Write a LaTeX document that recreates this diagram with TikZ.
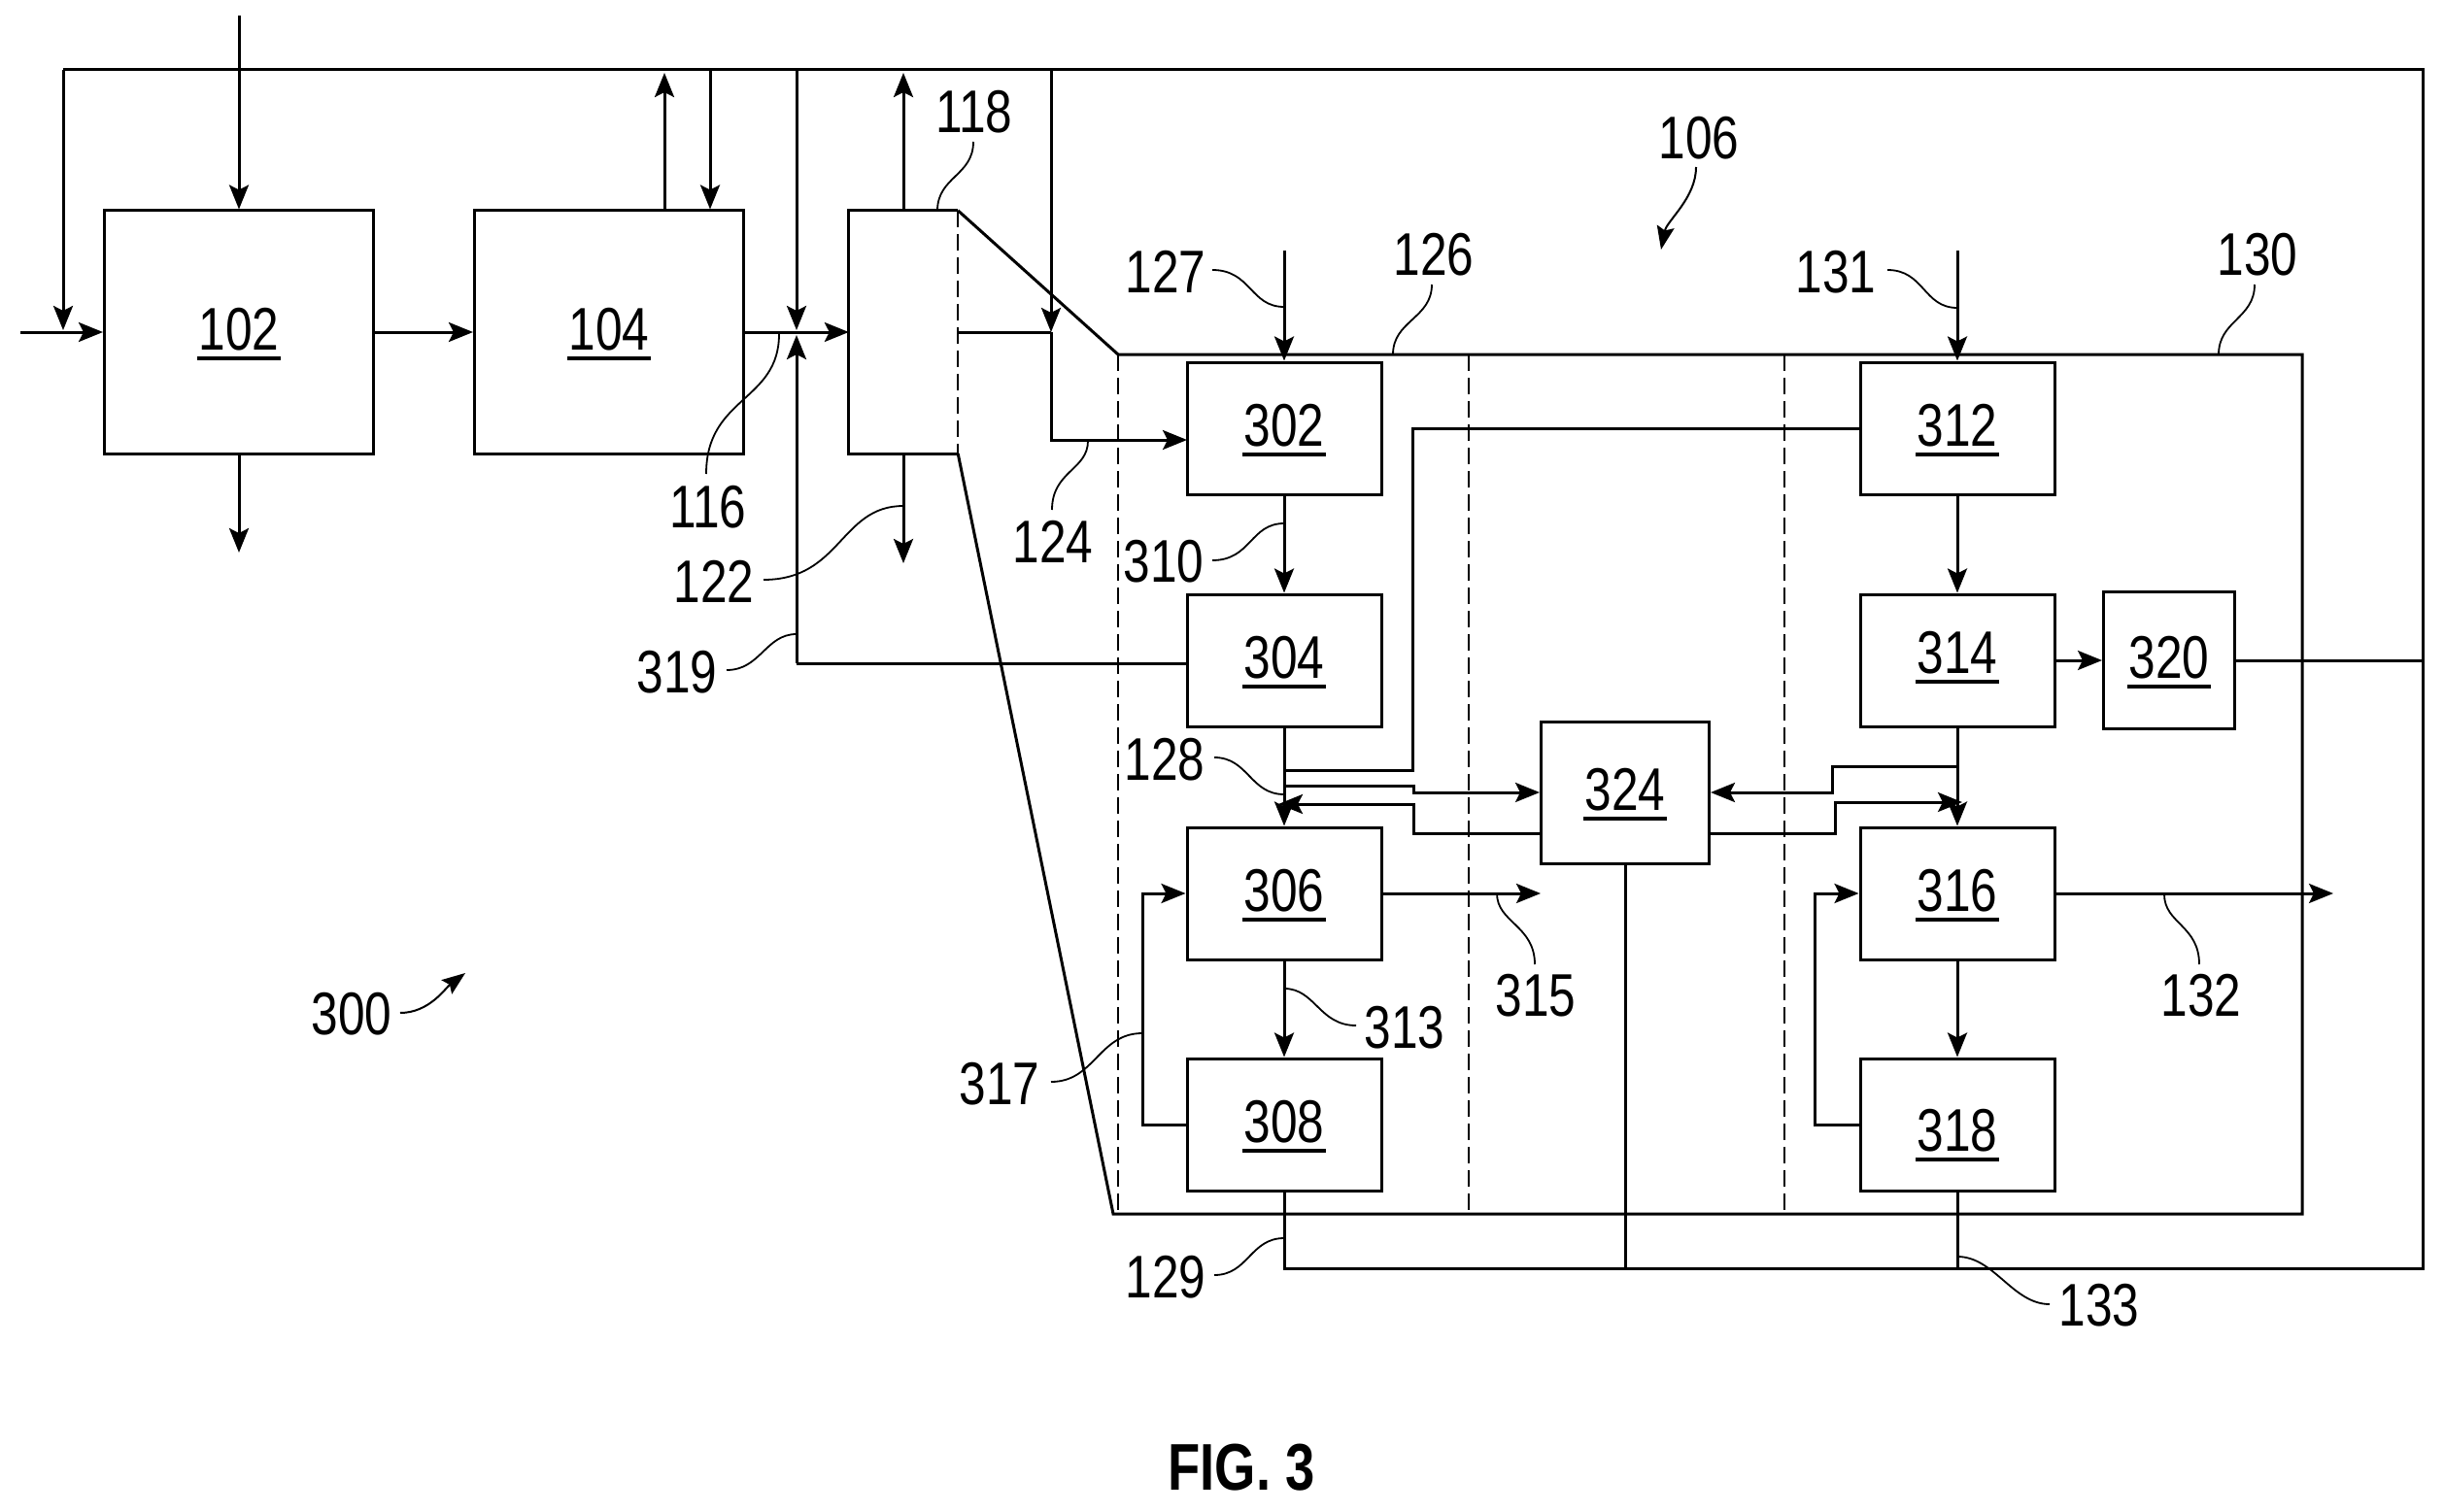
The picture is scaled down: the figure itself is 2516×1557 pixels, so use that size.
\documentclass[tikz,border=0pt]{standalone}
\usepackage{fontspec}
\setmainfont[FakeStretch=0.8]{Liberation Sans}
\usetikzlibrary{arrows.meta}

\newcommand{\partno}[1]{\vbox{\kern5pt\vtop{\hbox{\kern1.5pt#1\kern1.5pt}\kern5.5pt\hrule height 4.5pt}}}

\tikzset{
	line/.style={line width=3pt},
	flow/.style={line width=3pt,-{Stealth[length=25pt,width=20pt,inset=5pt]}},
	leader/.style={line width=1.8pt},
	pointer/.style={line width=2pt,-{Stealth[length=24pt,width=18pt,inset=4pt]}},
	zone/.style={line width=2.4pt,dash pattern=on 17pt off 7pt},
	block/.style={draw,line width=3pt,inner sep=0pt,font=\fontsize{62}{62}\selectfont},
	bigblock/.style={block,minimum width=277pt,minimum height=250pt},
	midblock/.style={block,minimum width=200pt,minimum height=136pt},
	tag/.style={inner sep=0pt,font=\fontsize{62}{62}\selectfont}
}

\begin{document}
\begin{tikzpicture}[x=1pt,y=-1pt]
	\useasboundingbox (0,0) rectangle (2516,1557);

	\node [bigblock] (B102) at (246,342) {\partno{102}};
	\node [bigblock] (B104) at (627,342) {\partno{104}};
	\node [inner sep=0pt,minimum width=112pt,minimum height=250pt] (B118) at (930,342) {};

	\node [midblock] (B302) at (1322,441) {\partno{302}};
	\node [midblock] (B304) at (1322,680) {\partno{304}};
	\node [midblock] (B306) at (1322,920) {\partno{306}};
	\node [midblock] (B308) at (1322,1158) {\partno{308}};
	\node [midblock] (B312) at (2015,441) {\partno{312}};
	\node [midblock] (B314) at (2015,680) {};
	\node [tag] (N314) at (2015,675) {\partno{314}};
	\node [midblock] (B316) at (2015,920) {\partno{316}};
	\node [midblock] (B318) at (2015,1158) {};
	\node [tag] (N318) at (2015,1167) {\partno{318}};
	\node [block,minimum width=135pt,minimum height=141pt] (B320) at (2233,680) {\partno{320}};
	\node [block,minimum width=173pt,minimum height=146pt] (B324) at (1673,816) {\partno{324}};

	\coordinate (TopLeft) at (65,72);
	\coordinate (TopRight) at (2494,72);
	\coordinate (BusLeft) at (1322,1306);
	\coordinate (BusRight) at (2494,1306);
	\coordinate (InLeft) at (21,342);
	\coordinate (InTop) at (246,16);
	\coordinate (OutBottom) at (246,569);
	\coordinate (Up104) at (684,75);
	\coordinate (Down104) at (731,72);
	\coordinate (Up118) at (930,75);
	\coordinate (Down118) at (930,580);
	\coordinate (Feed) at (65,340);
	\coordinate (JoinTop) at (820,72);
	\coordinate (JoinDown) at (820,340);
	\coordinate (JoinUp) at (820,345);
	\coordinate (JoinFoot) at (820,683);
	\coordinate (Drop) at (1082,72);
	\coordinate (Branch) at (1082,342);
	\coordinate (Into302) at (1222,453);
	\coordinate (In127) at (1322,258);
	\coordinate (In131) at (2015,258);
	\coordinate (Out306) at (1586,920);
	\coordinate (Out316) at (2402,920);
	\coordinate (Loop308) at (1176,1158);
	\coordinate (Loop318) at (1868,1158);

	% vessel outline and zones
	\coordinate (ZoneTop) at (1151,365);
	\coordinate (ZoneBottom) at (1146,1250);
	\coordinate (ZoneTopRight) at (2370,365);
	\coordinate (ZoneBottomRight) at (2370,1250);
	\coordinate (ZoneMidA) at (1512,365);
	\coordinate (ZoneMidB) at (1837,365);

	\draw [line] (B118.north east) -- (B118.north west) -- (B118.south west) -- (B118.south east);
	\draw [zone] (B118.north east) -- (B118.south east);
	\draw [line] (B118.north east) -- (ZoneTop) -- (ZoneTopRight) -- (ZoneBottomRight) -- (ZoneBottom) -- (B118.south east);
	\draw [zone] (ZoneTop) -- (ZoneTop |- ZoneBottom);
	\draw [zone] (ZoneMidA) -- (ZoneMidA |- ZoneBottom);
	\draw [zone] (ZoneMidB) -- (ZoneMidB |- ZoneBottom);

	% left part
	\draw [flow] (InLeft) -- (B102.west);
	\draw [flow] (B102.east) -- (B104.west);
	\draw [flow] (B104.east) -- (B118.west);
	\draw [flow] (InTop) -- (B102.north);
	\draw [flow] (B102.south) -- (OutBottom);
	\draw [flow] (Up104 |- B104.north) -- (Up104);
	\draw [flow] (Down104) -- (Down104 |- B104.north);
	\draw [flow] (B118.north) -- (Up118);
	\draw [flow] (B118.south) -- (Down118);

	% recycle loop
	\draw [line] (B308.south) -- (BusLeft) -- (BusRight) -- (TopRight) -- (TopLeft);
	\draw [flow] (TopLeft) -- (Feed);
	\draw [flow] (JoinTop) -- (JoinDown);
	\draw [line] (B304.west |- JoinFoot) -- (JoinFoot);
	\draw [flow] (JoinFoot) -- (JoinUp);
	\draw [flow] (Drop) -- (Branch);
	\draw [line] (B118.east) -- (Branch);
	\draw [flow] (Branch) |- (Into302);

	% inside the vessel
	\draw [flow] (In127) -- (B302.north);
	\draw [flow] (In131) -- (B312.north);
	\draw [flow] (B302.south) -- (B304.north);
	\draw [flow] (B304.south) -- (B306.north);
	\draw [flow] (B306.south) -- (B308.north);
	\draw [flow] (B312.south) -- (B314.north);
	\draw [flow] (B314.south) -- (B316.north);
	\draw [flow] (B316.south) -- (B318.north);
	\draw [flow] (B314.east) -- (B320.west);
	\draw [line] (B320.east) -- (B320.east -| TopRight);
	\draw [flow] (B306.east) -- (Out306);
	\draw [flow] (B316.east) -- (Out316);
	\draw [line] (B324.south) -- (B324.south |- BusLeft);
	\draw [line] (B318.south) -- (B318.south |- BusLeft);
	\draw [flow] (B308.west) -- (Loop308) |- (B306.west);
	\draw [flow] (B318.west) -- (Loop318) |- (B316.west);

	% crossing lines around the middle block
	\coordinate (Cross) at (1454,793);
	\coordinate (SendA) at (1322,809);
	\coordinate (SendB) at (1455,809);
	\coordinate (BackA) at (1455,858);
	\coordinate (BackTip) at (1316,828);
	\coordinate (RightA) at (1886,789);
	\coordinate (RightB) at (1889,858);
	\coordinate (RightTip) at (2020,826);

	\draw [line] (B312.west) -| (Cross) -- (B304.south |- Cross);
	\draw [flow] (SendA) -- (SendB) |- (B324.west);
	\draw [flow] (BackA -| B324.west) -- (BackA) |- (BackTip);
	\draw [flow] (B314.south |- RightA) -- (RightA) |- (B324.east);
	\draw [flow] (RightB -| B324.east) -- (RightB) |- (RightTip);

	% reference numerals
	\node [tag] (L118) at (1003,115) {118};
	\node [tag] (L106) at (1749,142) {106};
	\node [tag] (L127) at (1200,280) {127};
	\node [tag] (L126) at (1476,262) {126};
	\node [tag] (L131) at (1890,280) {131};
	\node [tag] (L130) at (2324,262) {130};
	\node [tag] (L116) at (729,522) {116};
	\node [tag] (L122) at (735,599) {122};
	\node [tag] (L124) at (1084,558) {124};
	\node [tag] (L310) at (1198,578) {310};
	\node [tag] (L319) at (697,692) {319};
	\node [tag] (L128) at (1199,782) {128};
	\node [tag] (L315) at (1581,1025) {315};
	\node [tag] (L313) at (1446,1058) {313};
	\node [tag] (L317) at (1029,1116) {317};
	\node [tag] (L300) at (362,1044) {300};
	\node [tag] (L132) at (2266,1025) {132};
	\node [tag] (L129) at (1200,1315) {129};
	\node [tag] (L133) at (2161,1344) {133};
	\node [inner sep=0pt,font=\bfseries\fontsize{68}{68}\selectfont] (Fig) at (1278,1511) {FIG. 3};

	\coordinate (T118) at (965,217);
	\coordinate (T106) at (1710,257);
	\coordinate (T127) at (1322,316);
	\coordinate (T126) at (1434,365);
	\coordinate (T131) at (2015,317);
	\coordinate (T130) at (2284,365);
	\coordinate (T116) at (802,344);
	\coordinate (T122) at (930,521);
	\coordinate (T124) at (1120,454);
	\coordinate (T310) at (1322,539);
	\coordinate (T319) at (820,653);
	\coordinate (T128) at (1322,818);
	\coordinate (T315) at (1541,920);
	\coordinate (T313) at (1322,1018);
	\coordinate (T317) at (1176,1064);
	\coordinate (T300) at (479,1002);
	\coordinate (T132) at (2228,921);
	\coordinate (T129) at (1322,1275);
	\coordinate (T133) at (2015,1294);

	\draw [leader] (1002,146) .. controls +(0,35) and +(0,-35) .. (T118);
	\draw [pointer] (1746,172) .. controls +(0,32) and +(6,-30) .. (T106);
	\draw [leader] (1248,278) .. controls +(40,0) and +(-35,0) .. (T127);
	\draw [leader] (1474,293) .. controls +(0,35) and +(0,-35) .. (T126);
	\draw [leader] (1943,278) .. controls +(38,0) and +(-35,0) .. (T131);
	\draw [leader] (2321,293) .. controls +(0,35) and +(0,-35) .. (T130);
	\draw [leader] (727,488) .. controls +(0,-80) and +(0,70) .. (T116);
	\draw [leader] (786,597) .. controls +(80,0) and +(-65,0) .. (T122);
	\draw [leader] (1083,525) .. controls +(0,-40) and +(0,30) .. (T124);
	\draw [leader] (1248,577) .. controls +(40,0) and +(-35,0) .. (T310);
	\draw [leader] (748,690) .. controls +(35,0) and +(-32,0) .. (T319);
	\draw [leader] (1250,780) .. controls +(35,0) and +(-35,0) .. (T128);
	\draw [leader] (1580,993) .. controls +(0,-40) and +(0,30) .. (T315);
	\draw [leader] (1396,1056) .. controls +(-38,0) and +(32,0) .. (T313);
	\draw [leader] (1082,1114) .. controls +(45,0) and +(-45,0) .. (T317);
	\draw [pointer] (412,1043) .. controls +(30,0) and +(-20,15) .. (T300);
	\draw [leader] (2264,993) .. controls +(0,-40) and +(0,30) .. (T132);
	\draw [leader] (1250,1313) .. controls +(35,0) and +(-35,0) .. (T129);
	\draw [leader] (2110,1343) .. controls +(-38,0) and +(38,0) .. (T133);
\end{tikzpicture}
\end{document}
